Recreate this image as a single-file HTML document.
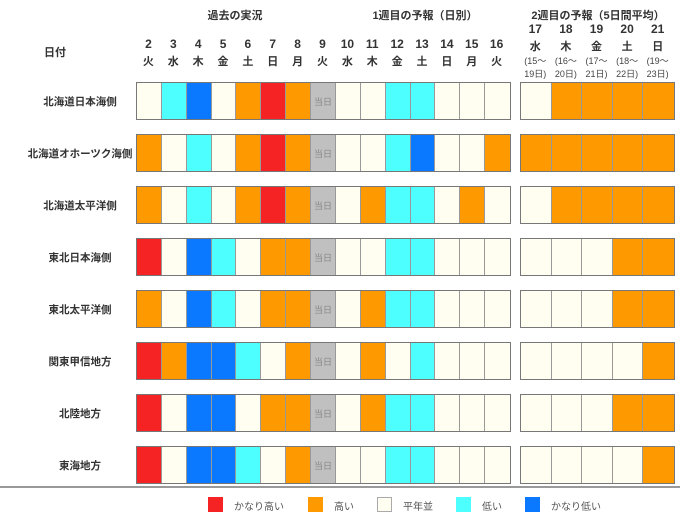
<!DOCTYPE html>
<html><head><meta charset="utf-8"><style>
body{margin:0;width:680px;height:523px;background:#fff;position:relative;overflow:hidden;font-family:"Liberation Sans","Noto Sans CJK JP",sans-serif;color:#333}
.a{position:absolute}
.t{position:absolute;font-size:11px;font-weight:bold;text-align:center;white-space:nowrap}
.c{position:absolute;box-sizing:border-box;border-right:1px solid #999;height:36px}
.box{position:absolute;border:1px solid #777;height:36px;box-sizing:content-box}
.lbl{position:absolute;left:0;width:160px;text-align:center;font-size:10.5px;font-weight:bold}
.s{font-size:9px;font-weight:normal;color:#888;display:flex;align-items:center;justify-content:center}
.lg{position:absolute;top:497px;width:15px;height:15px;box-sizing:border-box;border:1px solid #aaa}
.lt{position:absolute;top:498px;font-size:10px;color:#555}
</style></head><body>
<div id="root"></div>
<script>
const col={R:'#f52323',O:'#ff9900',W:'#fffef0',C:'#4dffff',B:'#0a78ff',G:'#c0c0c0'};
const rows=[
["北海道日本海側","WCBWOROGWWCCWWW","WOOOO"],
["北海道オホーツク海側","OWCWOROGWWCBWWO","OOOOO"],
["北海道太平洋側","OWCWOROGWOCCWOW","WOOOO"],
["東北日本海側","RWBCWOOGWWCCWWW","WWWOO"],
["東北太平洋側","OWBCWOOGWOCCWWW","WWWOO"],
["関東甲信地方","ROBBCWOGWOWCWWW","WWWWO"],
["北陸地方","RWBBWOOGWOCCWWW","WWWOO"],
["東海地方","RWBBCWOGWWCCWWW","WWWWO"]];
let h='';
const x0=136,w1=24.87,x2=520,w2=30.6;
const days=[2,3,4,5,6,7,8,9,10,11,12,13,14,15,16],wd="火水木金土日月火水木金土日月火";
h+=`<div class="t" style="left:180px;top:7px;width:110px">過去の実況</div>`;
h+=`<div class="t" style="left:355px;top:7px;width:140px">1週目の予報（日別）</div>`;
h+=`<div class="t" style="left:520px;top:7px;width:156px">2週目の予報（5日間平均）</div>`;
h+=`<div class="t" style="left:30px;top:44px;width:50px">日付</div>`;
for(let i=0;i<15;i++){let cx=x0+w1*i;h+=`<div class="t" style="left:${cx}px;top:37px;width:${w1}px;font-size:12px">${days[i]}</div><div class="t" style="left:${cx}px;top:53px;width:${w1}px">${wd[i]}</div>`;}
const d2=[17,18,19,20,21],w2d="水木金土日";
for(let i=0;i<5;i++){let cx=x2+w2*i;h+=`<div class="t" style="left:${cx}px;top:22px;width:${w2}px;font-size:12px">${d2[i]}</div><div class="t" style="left:${cx}px;top:38px;width:${w2}px">${w2d[i]}</div><div class="t" style="left:${cx-2}px;top:54px;width:${w2+4}px;font-size:9px;font-weight:normal;color:#444">(${15+i}～</div><div class="t" style="left:${cx-2}px;top:67px;width:${w2+4}px;font-size:9px;font-weight:normal;color:#444">${19+i}日)</div>`;}
rows.forEach((r,k)=>{const y=82+k*52;
h+=`<div class="lbl" style="top:${y+12}px">${r[0]}</div>`;
h+=`<div class="box" style="left:${x0}px;top:${y}px;width:${w1*15}px"></div>`;
for(let i=0;i<15;i++){h+=`<div class="c ${r[1][i]=='G'?'s':''}" style="left:${x0+1+w1*i}px;top:${y+1}px;width:${w1}px;height:36px;background:${col[r[1][i]]};${i==14?'border-right:none':''}">${r[1][i]=='G'?'当日':''}</div>`;}
h+=`<div class="box" style="left:${x2}px;top:${y}px;width:${w2*5}px"></div>`;
for(let i=0;i<5;i++){h+=`<div class="c" style="left:${x2+1+w2*i}px;top:${y+1}px;width:${w2}px;background:${col[r[2][i]]};${i==4?'border-right:none':''}"></div>`;}
});
h+=`<div class="a" style="left:0;top:486px;width:680px;height:2px;background:#999"></div>`;
const lg=[['R','かなり高い',208],['O','高い',308],['W','平年並',377],['C','低い',456],['B','かなり低い',525]];
lg.forEach(l=>{h+=`<div class="lg" style="left:${l[2]}px;background:${col[l[0]]};${l[0]=='W'?'':'border-color:'+col[l[0]]}"></div><div class="lt" style="left:${l[2]+26}px">${l[1]}</div>`;});
document.getElementById('root').innerHTML=h;
</script>
</body></html>
